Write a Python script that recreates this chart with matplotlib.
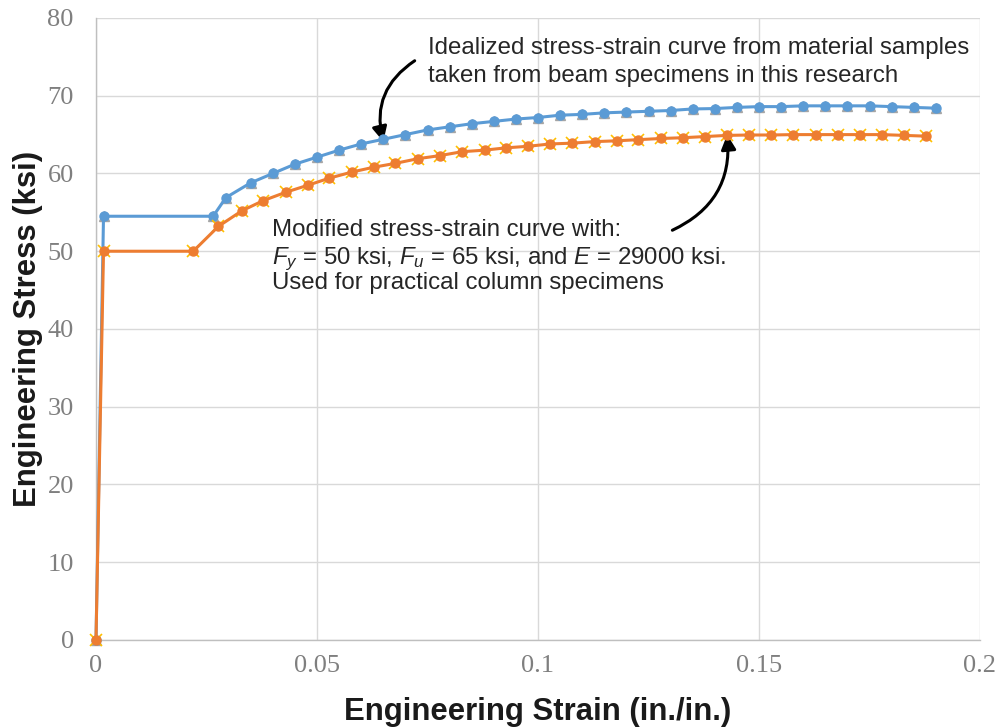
import matplotlib.pyplot as plt

plt.rcParams['mathtext.fontset'] = 'custom'
plt.rcParams['mathtext.it'] = 'Liberation Sans:italic'
plt.rcParams['mathtext.rm'] = 'Liberation Sans'

# strain (in./in.) and stress (ksi) for the idealized curve from beam material samples
strain_ideal = [0.0, 0.0017, 0.0265, 0.0294, 0.035, 0.040, 0.045, 0.050, 0.055, 0.060,
                0.065, 0.070, 0.075, 0.080, 0.085, 0.090, 0.095, 0.100, 0.105, 0.110,
                0.115, 0.120, 0.125, 0.130, 0.135, 0.140, 0.145, 0.150, 0.155, 0.160,
                0.165, 0.170, 0.175, 0.180, 0.185, 0.190]
stress_ideal = [0.0, 54.5, 54.5, 56.9, 58.8, 60.0, 61.2, 62.1, 63.0, 63.8,
                64.4, 65.0, 65.6, 66.0, 66.4, 66.7, 67.0, 67.2, 67.5, 67.6,
                67.8, 67.9, 68.0, 68.1, 68.3, 68.35, 68.5, 68.6, 68.6, 68.7,
                68.7, 68.7, 68.7, 68.6, 68.5, 68.4]

# modified curve used for the practical column specimens
strain_mod = [0.0, 0.0017, 0.0220, 0.0277, 0.0330, 0.0378, 0.0430, 0.0480, 0.0528, 0.0580,
              0.0628, 0.0677, 0.0728, 0.0778, 0.0828, 0.0879, 0.0928, 0.0978, 0.1028, 0.1078,
              0.1128, 0.1178, 0.1227, 0.1278, 0.1328, 0.1378, 0.1428, 0.1478, 0.1528, 0.1578,
              0.1628, 0.1678, 0.1728, 0.1778, 0.1828, 0.1878]
stress_mod = [0.0, 50.0, 50.0, 53.2, 55.2, 56.5, 57.6, 58.5, 59.4, 60.2,
              60.8, 61.3, 61.9, 62.3, 62.8, 63.0, 63.3, 63.5, 63.8, 63.9,
              64.1, 64.2, 64.35, 64.5, 64.6, 64.75, 64.9, 64.95, 64.95, 65.0,
              65.0, 65.0, 65.0, 65.0, 64.9, 64.8]

note_top = ['Idealized stress-strain curve from material samples',
            'taken from beam specimens in this research']
note_mid = ['Modified stress-strain curve with:',
            '$F_y$ = 50 ksi, $F_u$ = 65 ksi, and $E$ = 29000 ksi.',
            'Used for practical column specimens']

fig = plt.figure(figsize=(10, 7.28), dpi=100)
ax = fig.add_axes([0.096, 0.1209, 0.884, 0.8544])

# line with markers, plus the marker underlay that peeks out behind each point
ax.plot(strain_ideal, stress_ideal, ls='none', marker='^', ms=7.5, color='#a5a5a5',
        zorder=3, clip_on=False)
ax.plot(strain_ideal, stress_ideal, color='#5b9bd5', lw=2.2, marker='o', ms=6.5,
        zorder=4, clip_on=False)
ax.plot(strain_mod, stress_mod, ls='none', marker='x', ms=8, mew=1.2, color='#ffc000',
        zorder=5, clip_on=False)
ax.plot(strain_mod, stress_mod, color='#ed7d31', lw=2.2, marker='o', ms=6.5,
        zorder=6, clip_on=False)

ax.set_xlim(0, 0.2)
ax.set_ylim(0, 80)
ax.set_xticks([0, 0.05, 0.1, 0.15, 0.2])
ax.set_xticklabels(['0', '0.05', '0.1', '0.15', '0.2'])
ax.set_yticks(range(0, 81, 10))
ax.grid(True, color='#d9d9d9', lw=1)
ax.set_axisbelow(True)
for s in ['top', 'right']:
    ax.spines[s].set_visible(False)
for s in ['left', 'bottom']:
    ax.spines[s].set_color('#bfbfbf')
    ax.spines[s].set_linewidth(1)
ax.tick_params(length=0, labelsize=19, labelcolor='#7f7f7f')
ax.tick_params(axis='y', pad=16)
ax.tick_params(axis='x', pad=11)
for lab in ax.get_xticklabels() + ax.get_yticklabels():
    lab.set_family('Liberation Serif')

ax.set_xlabel('Engineering Strain (in./in.)', family='Liberation Sans', weight='bold',
              fontsize=22.4, color='#1a1a1a', labelpad=14)
ax.set_ylabel('Engineering Stress (ksi)', family='Liberation Sans', weight='bold',
              fontsize=22.4, color='#1a1a1a', labelpad=3)

txt_kw = dict(family='Liberation Sans', fontsize=17.3, color='#262626',
              ha='left', va='baseline')
for line, yb in zip(note_top, [75.33, 71.73]):
    ax.text(0.0751, yb, line, **txt_kw)
for line, yb in zip(note_mid, [51.96, 48.36, 45.14]):
    ax.text(0.0398, yb, line, **txt_kw)

arrow_kw = dict(arrowstyle='-|>', color='black', lw=2.2, mutation_scale=22,
                shrinkA=0, shrinkB=0, connectionstyle='arc3,rad=0.35')
ax.annotate('', xy=(0.0650, 64.1), xytext=(0.0721, 74.5), arrowprops=arrow_kw)
ax.annotate('', xy=(0.1428, 65.0), xytext=(0.1304, 52.7), arrowprops=arrow_kw)

fig.savefig('out.png', dpi=100)
